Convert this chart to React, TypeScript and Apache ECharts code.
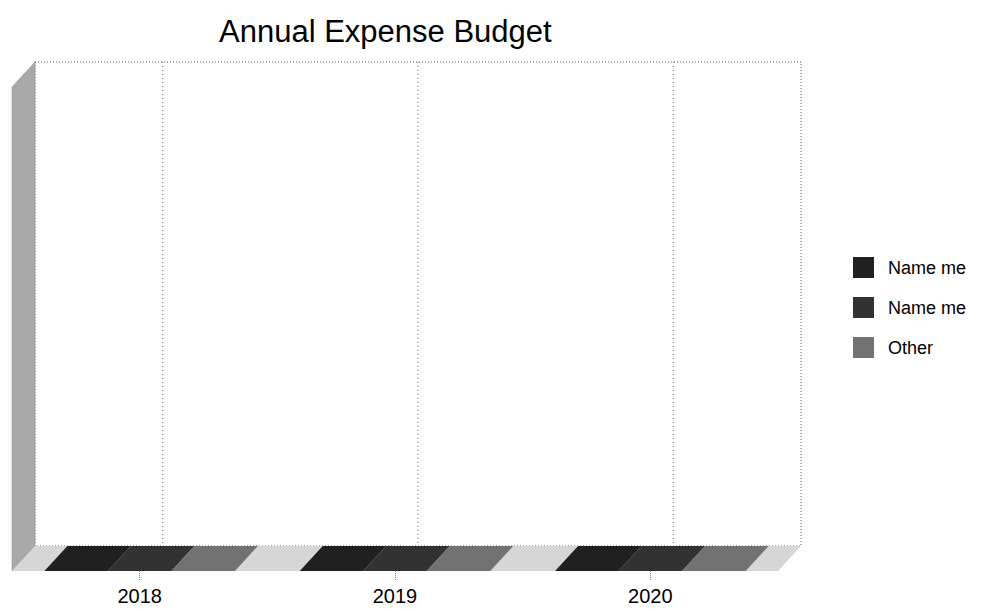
import React, { useEffect, useRef } from "react";
import * as echarts from "echarts";

const categories = ["2018", "2019", "2020"];
const seriesNames = ["Name me", "Name me", "Other"];
const seriesA = [0, 0, 0];
const seriesB = [0, 0, 0];
const seriesOther = [0, 0, 0];
const seriesValues = [seriesA, seriesB, seriesOther];
const seriesColors = ["#202020", "#323232", "#727272"];
const valueMax = 100;

const DX = 23;
const DY = 25;
const BAR_W = 63.5;

export default function App() {
  const ref = useRef<HTMLDivElement>(null);

  useEffect(() => {
    document.body.style.margin = "0";
    if (!ref.current) return;
    const chart = echarts.init(ref.current, undefined, { renderer: "svg" });

    const wallSeries: any = {
      type: "custom",
      name: "walls",
      silent: true,
      z: 1,
      data: [[0, 0]],
      renderItem: (params: any) => {
        const cs = params.coordSys;
        const x = cs.x, y = cs.y, w = cs.width, h = cs.height;
        return {
          type: "group",
          children: [
            {
              type: "rect",
              shape: { x: x + DX, y: y - DY, width: w, height: h },
              style: { fill: "#ffffff", stroke: "#555555", lineWidth: 1, lineDash: [1, 2] },
            },
            {
              type: "polygon",
              shape: { points: [[x, y], [x + DX, y - DY], [x + DX, y + h - DY], [x, y + h]] },
              style: { fill: "#a9a9a9", stroke: "#8a8a8a", lineWidth: 0.5 },
            },
            {
              type: "polygon",
              shape: { points: [[x, y + h], [x + w, y + h], [x + w + DX, y + h - DY], [x + DX, y + h - DY]] },
              style: { fill: "#d6d6d6" },
            },
          ],
        };
      },
    };

    const gridSeries: any = {
      type: "custom",
      name: "gridlines",
      silent: true,
      z: 2,
      data: categories.map((c) => [c, 0]),
      renderItem: (params: any, api: any) => {
        const cs = params.coordSys;
        const [cx] = api.coord([api.value(0), 0]);
        return {
          type: "line",
          shape: { x1: cx + DX, y1: cs.y - DY, x2: cx + DX, y2: cs.y + cs.height - DY },
          style: { stroke: "#777777", lineWidth: 1, lineDash: [1, 3] },
        };
      },
    };

    const barSeries: any[] = seriesValues.map((vals, idx) => ({
      type: "custom",
      name: `${seriesNames[idx]}|${idx}`,
      z: 3,
      itemStyle: { color: seriesColors[idx] },
      encode: { x: 0, y: 1 },
      data: categories.map((c, i) => [c, vals[i]]),
      renderItem: (params: any, api: any) => {
        const cat = api.value(0);
        const v = api.value(1);
        const [cx, y0] = api.coord([cat, 0]);
        const [, y1] = api.coord([cat, v]);
        const xl = cx - 1.5 * BAR_W + idx * BAR_W;
        const xr = xl + BAR_W;
        const color = seriesColors[idx];
        const children: any[] = [];
        if (y0 - y1 > 0.5) {
          children.push({
            type: "rect",
            shape: { x: xl, y: y1, width: BAR_W, height: y0 - y1 },
            style: { fill: color },
          });
          children.push({
            type: "polygon",
            shape: { points: [[xr, y1], [xr + DX, y1 - DY], [xr + DX, y0 - DY], [xr, y0]] },
            style: { fill: color, opacity: 0.8 },
          });
        }
        children.push({
          type: "polygon",
          shape: { points: [[xl, y1], [xr, y1], [xr + DX, y1 - DY], [xl + DX, y1 - DY]] },
          style: { fill: color },
        });
        return { type: "group", children };
      },
    }));

    chart.setOption({
      animation: false,
      textStyle: { fontFamily: "Arial, 'Liberation Sans', sans-serif" },
      title: {
        text: "Annual Expense Budget",
        left: 214,
        top: 11,
        textStyle: { fontSize: 31, fontWeight: "normal", color: "#000" },
      },
      legend: {
        orient: "vertical",
        left: 848,
        top: 252,
        itemWidth: 21,
        itemHeight: 21,
        itemGap: 19,
        icon: "rect",
        data: barSeries.map((s) => s.name),
        formatter: (name: string) => `{g|}{t|${name.split("|")[0]}}`,
        textStyle: {
          fontSize: 18,
          color: "#000",
          rich: { g: { width: 9 }, t: { fontSize: 18, color: "#000" } },
        },
        selectedMode: false,
      },
      grid: { left: 12, top: 87, width: 766, height: 484, containLabel: false },
      xAxis: {
        type: "category",
        data: categories,
        boundaryGap: true,
        axisLine: { show: false },
        axisTick: { show: true, alignWithLabel: true, length: 9, lineStyle: { color: "#888", type: "dotted" } },
        axisLabel: { fontSize: 20, color: "#000", margin: 15 },
        splitLine: { show: false },
      },
      yAxis: { type: "value", min: 0, max: valueMax, show: false },
      series: [wallSeries, gridSeries, ...barSeries],
    });

    return () => chart.dispose();
  }, []);

  return <div ref={ref} style={{ width: 997, height: 611 }} />;
}
